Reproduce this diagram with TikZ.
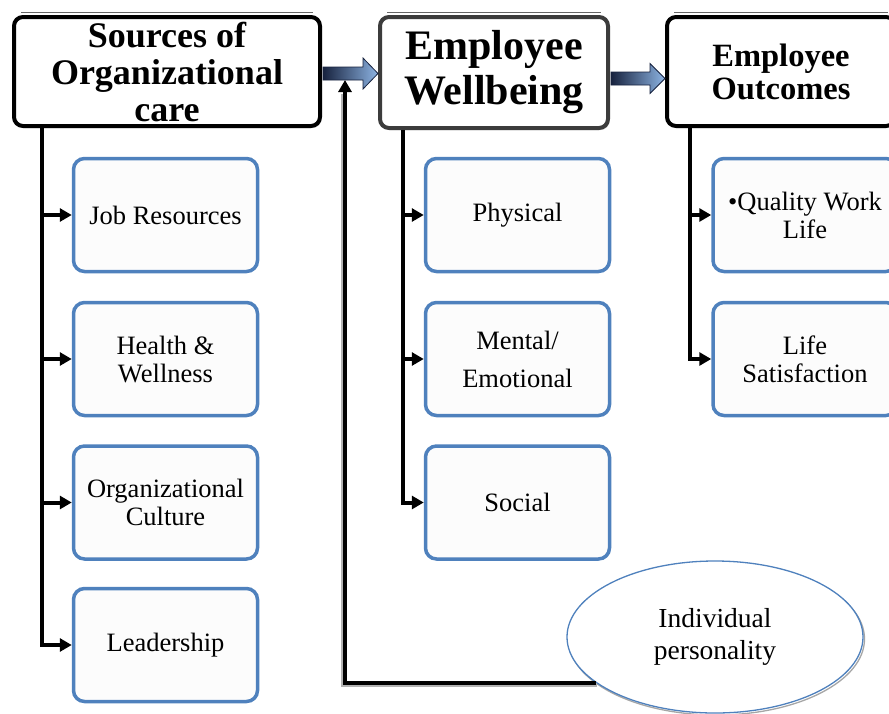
\documentclass[tikz,border=0pt]{standalone}
\usepackage{fontspec}
\setmainfont{Liberation Serif}
\usetikzlibrary{arrows.meta,calc,shapes.geometric,shadows}
\definecolor{boxblue}{HTML}{4F81BD}
\definecolor{navy}{HTML}{17223E}
\definecolor{lightblue}{HTML}{8DB4E3}
\definecolor{headgray}{HTML}{3C3C3C}
\begin{document}
\begin{tikzpicture}[x=1pt,y=-1pt,
  header/.style={draw=black, line width=4pt, rounded corners=9pt, fill=white,
    align=center, inner sep=0pt,
    drop shadow={opacity=0.35, shadow xshift=1.5pt, shadow yshift=-2pt}},
  item/.style={draw=boxblue, line width=3.5pt, rounded corners=11pt,
    fill=black!1, minimum width=184pt, minimum height=113pt, align=center,
    inner sep=0pt, font=\fontsize{26.5}{28}\selectfont},
  conn/.style={line width=4pt},
  tip/.style={-{Triangle[length=12pt,width=13pt]}},
  blockarrow/.style={left color=navy, right color=lightblue, draw=navy, line width=0.8pt},
  topline/.style={draw=black!60, line width=1pt}
]
\useasboundingbox (0,0) rectangle (889,713);
\clip (0,0) rectangle (889,713);

% header boxes
\node[header, minimum width=306pt, minimum height=109pt,
  font=\fontsize{36}{37}\selectfont\bfseries] (b1) at (167,71.5)
  {Sources of\\Organizational\\care};
\node[header, draw=headgray, minimum width=228pt, minimum height=111pt,
  font=\fontsize{42}{45}\selectfont\bfseries] (b2) at (494,72.5)
  {Employee\\Wellbeing};
\node[header, minimum width=228pt, minimum height=109pt,
  font=\fontsize{32.5}{33}\selectfont\bfseries] (b3) at (781,71.5)
  {Employee\\Outcomes};

% thin rules along the top of the header boxes
\foreach \b in {b1,b2,b3}
  \draw[topline] ($(\b.north west)+(9,-3)$) -- ($(\b.north east)+(-9,-3)$);

% block arrows between the headers
\coordinate (a1s) at ($(b1.east)+(1,2)$);
\coordinate (a1t) at ($(b2.west |- a1s)$);
\shade[blockarrow] ($(a1s)+(0,-6.5)$) -- ($(a1t)+(-15,-6.5)$) -- ($(a1t)+(-15,-15.5)$)
  -- (a1t) -- ($(a1t)+(-15,15.5)$) -- ($(a1t)+(-15,6.5)$) -- ($(a1s)+(0,6.5)$) -- cycle;
\coordinate (a2s) at ($(b2.east)+(1,6)$);
\coordinate (a2t) at ($(b3.west |- a2s)$);
\shade[blockarrow] ($(a2s)+(0,-6.5)$) -- ($(a2t)+(-15,-6.5)$) -- ($(a2t)+(-15,-15)$)
  -- (a2t) -- ($(a2t)+(-15,15)$) -- ($(a2t)+(-15,6.5)$) -- ($(a2s)+(0,6.5)$) -- cycle;

% sources of organizational care
\node[item] (c1) at (165.5,215) {Job Resources};
\node[item] (c2) at (165.5,359) {Health \&\\Wellness};
\node[item] (c3) at (165.5,502.5) {Organizational\\Culture};
\node[item] (c4) at (165.5,645) {Leadership};

% wellbeing dimensions
\node[item] (w1) at (517.5,215) {Physical};
\node[item] (w2) at (517.5,359) {Mental/\\[10pt]Emotional};
\node[item] (w3) at (517.5,502.5) {Social};

% outcomes
\node[item] (o1) at (805,215) {\textbullet Quality Work\\Life};
\node[item] (o2) at (805,359) {Life\\Satisfaction};

% moderator
\draw[black!35, line width=1.3pt] (716.5,639) ellipse [x radius=148, y radius=76];
\node[ellipse, draw=boxblue, line width=1.3pt, fill=white, minimum width=296pt,
  minimum height=152pt, inner sep=0pt, align=center,
  font=\fontsize{27.5}{32}\selectfont] (ip) at (715,637) {Individual\\personality};

% trunk lines with branches
\coordinate (t1) at ($(b1.south west)+(30,0)$);
\coordinate (t2) at ($(b2.south west)+(25,0)$);
\coordinate (t3) at ($(b3.south west)+(25,0)$);

\draw[conn, tip] (t1) |- (c4.west);
\foreach \n in {c1,c2,c3}
  \draw[conn, tip] (t1 |- \n.west) -- (\n.west);

\draw[conn, tip] (t2) |- (w3.west);
\foreach \n in {w1,w2}
  \draw[conn, tip] (t2 |- \n.west) -- (\n.west);

\draw[conn, tip] (t3) |- (o2.west);
\draw[conn, tip] (t3 |- o1.west) -- (o1.west);

% feedback from personality into the first arrow
\coordinate (fb) at ($(a1s)+(22,6.5)$);
\draw[line width=4pt, black!30] ($(ip.201)+(1,2.5)$) -| ($(fb)+(-2,14)$);
\draw[conn, tip] (ip.201) -| (fb);
\end{tikzpicture}
\end{document}
